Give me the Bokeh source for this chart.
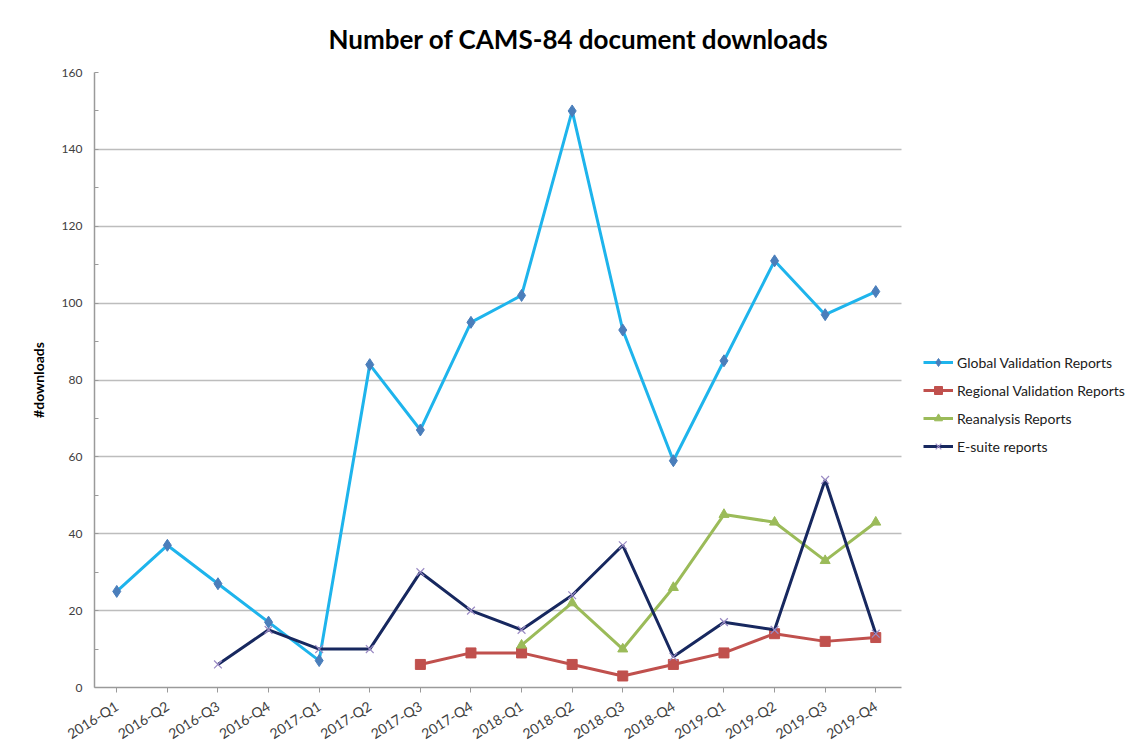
from bokeh.plotting import figure
from bokeh.models import (Range1d, Legend, LegendItem, SingleIntervalTicker,
                          FixedTicker, Grid)
from bokeh.embed import file_html
from bokeh.resources import INLINE

quarters = ["2016-Q1", "2016-Q2", "2016-Q3", "2016-Q4",
            "2017-Q1", "2017-Q2", "2017-Q3", "2017-Q4",
            "2018-Q1", "2018-Q2", "2018-Q3", "2018-Q4",
            "2019-Q1", "2019-Q2", "2019-Q3", "2019-Q4"]

global_q = quarters
global_vals = [25, 37, 27, 17, 7, 84, 67, 95, 102, 150, 93, 59, 85, 111, 97, 103]

regional_q = quarters[6:]
regional_vals = [6, 9, 9, 6, 3, 6, 9, 14, 12, 13]

reanalysis_q = quarters[8:]
reanalysis_vals = [11, 22, 10, 26, 45, 43, 33, 43]

esuite_q = quarters[2:]
esuite_vals = [6, 15, 10, 10, 30, 20, 15, 24, 37, 8, 17, 15, 54, 14]

y_ticks_interval = 20

FONT = "Lato"


def idx(qs):
    return [quarters.index(q) for q in qs]


# layout: the plotting area spans the left part of a wide frame, the legend
# sits in the free space to the right of it
PX_PER_Q = 50.6
FRAME_W = 1036
X_START = -0.44
X_AXIS_END = len(quarters) - 1 + 0.51
X_END = X_START + FRAME_W / PX_PER_Q

p = figure(frame_width=FRAME_W, frame_height=615,
           x_range=Range1d(X_START, X_END),
           y_range=Range1d(0, 160),
           output_backend="svg", toolbar_location=None,
           title="Number of CAMS-84 document downloads",
           min_border_left=94, min_border_right=0,
           min_border_top=72, min_border_bottom=50)

p.title.align = "left"
p.title.offset = 234
p.title.text_font = FONT
p.title.text_font_size = "26px"
p.title.text_font_style = "bold"
p.title.text_color = "#000000"
p.title.standoff = 36

p.outline_line_color = None
p.xgrid.grid_line_color = None
p.ygrid.grid_line_color = "#BDBDBD"
p.ygrid.grid_line_width = 1.5
if "cross_bounds" in Grid.properties():
    p.ygrid.cross_bounds = (X_START, X_AXIS_END)
else:
    p.ygrid.visible = False
    gy = list(range(y_ticks_interval, 161, y_ticks_interval))
    p.segment(x0=[X_START] * len(gy), x1=[X_AXIS_END] * len(gy), y0=gy, y1=gy,
              line_color="#BDBDBD", line_width=1.5, level="underlay")

p.yaxis.ticker = SingleIntervalTicker(interval=y_ticks_interval, num_minor_ticks=2)
p.yaxis.axis_line_color = "#9A9A9A"
p.yaxis.axis_line_width = 1.5
p.yaxis.major_tick_out = 0
p.yaxis.major_tick_in = 0
p.yaxis.minor_tick_in = 4
p.yaxis.minor_tick_out = 0
p.yaxis.minor_tick_line_color = "#9A9A9A"
p.yaxis.major_label_text_font = FONT
p.yaxis.major_label_text_font_size = "12px"
p.yaxis.major_label_text_color = "#404040"
p.yaxis.major_label_standoff = 12
p.yaxis.axis_label = "#downloads"
p.yaxis.axis_label_text_font = FONT
p.yaxis.axis_label_text_font_size = "14px"
p.yaxis.axis_label_text_font_style = "bold"
p.yaxis.axis_label_text_color = "#000000"
p.yaxis.axis_label_standoff = 12

p.xaxis.ticker = FixedTicker(ticks=list(range(len(quarters))))
p.xaxis.major_label_overrides = {i: q for i, q in enumerate(quarters)}
p.xaxis.bounds = (X_START, X_AXIS_END)
p.xaxis.axis_line_color = "#9A9A9A"
p.xaxis.axis_line_width = 1.5
p.xaxis.major_tick_out = 5
p.xaxis.major_tick_in = 0
p.xaxis.major_tick_line_color = "#9A9A9A"
p.xaxis.minor_tick_line_color = None
p.xaxis.major_label_orientation = 0.56
p.xaxis.major_label_text_font = FONT
p.xaxis.major_label_text_font_size = "14px"
p.xaxis.major_label_text_color = "#404040"
p.xaxis.major_label_standoff = 12

g_line = p.line(idx(global_q), global_vals, line_color="#1EB4EC", line_width=3)
g_mark = p.scatter(idx(global_q), global_vals, marker="diamond", size=12,
                   fill_color="#4A7EBB", line_color="#4A7EBB")

r_line = p.line(idx(regional_q), regional_vals, line_color="#C0504D", line_width=3)
r_mark = p.scatter(idx(regional_q), regional_vals, marker="square", size=10,
                   fill_color="#C0504D", line_color="#C0504D")

a_line = p.line(idx(reanalysis_q), reanalysis_vals, line_color="#9BBB59", line_width=3)
a_mark = p.scatter(idx(reanalysis_q), reanalysis_vals, marker="triangle", size=10,
                   fill_color="#9BBB59", line_color="#9BBB59")

e_line = p.line(idx(esuite_q), esuite_vals, line_color="#17285F", line_width=3)
e_mark = p.scatter(idx(esuite_q), esuite_vals, marker="x", size=11,
                   line_color="#9B8BC4", line_width=1.2)

legend = Legend(items=[
    LegendItem(label="Global Validation Reports", renderers=[g_line, g_mark]),
    LegendItem(label="Regional Validation Reports", renderers=[r_line, r_mark]),
    LegendItem(label="Reanalysis Reports", renderers=[a_line, a_mark]),
    LegendItem(label="E-suite reports", renderers=[e_line, e_mark]),
], location=(829, 231))
legend.padding = 0
legend.margin = 0
legend.border_line_color = None
legend.background_fill_alpha = 0
legend.glyph_width = 30
legend.glyph_height = 20
legend.label_height = 20
legend.spacing = 8
legend.label_standoff = 4
legend.label_text_font = FONT
legend.label_text_font_size = "14px"
legend.label_text_color = "#202020"
p.add_layout(legend, "center")

open("out.html", "w").write(file_html(p, INLINE))
